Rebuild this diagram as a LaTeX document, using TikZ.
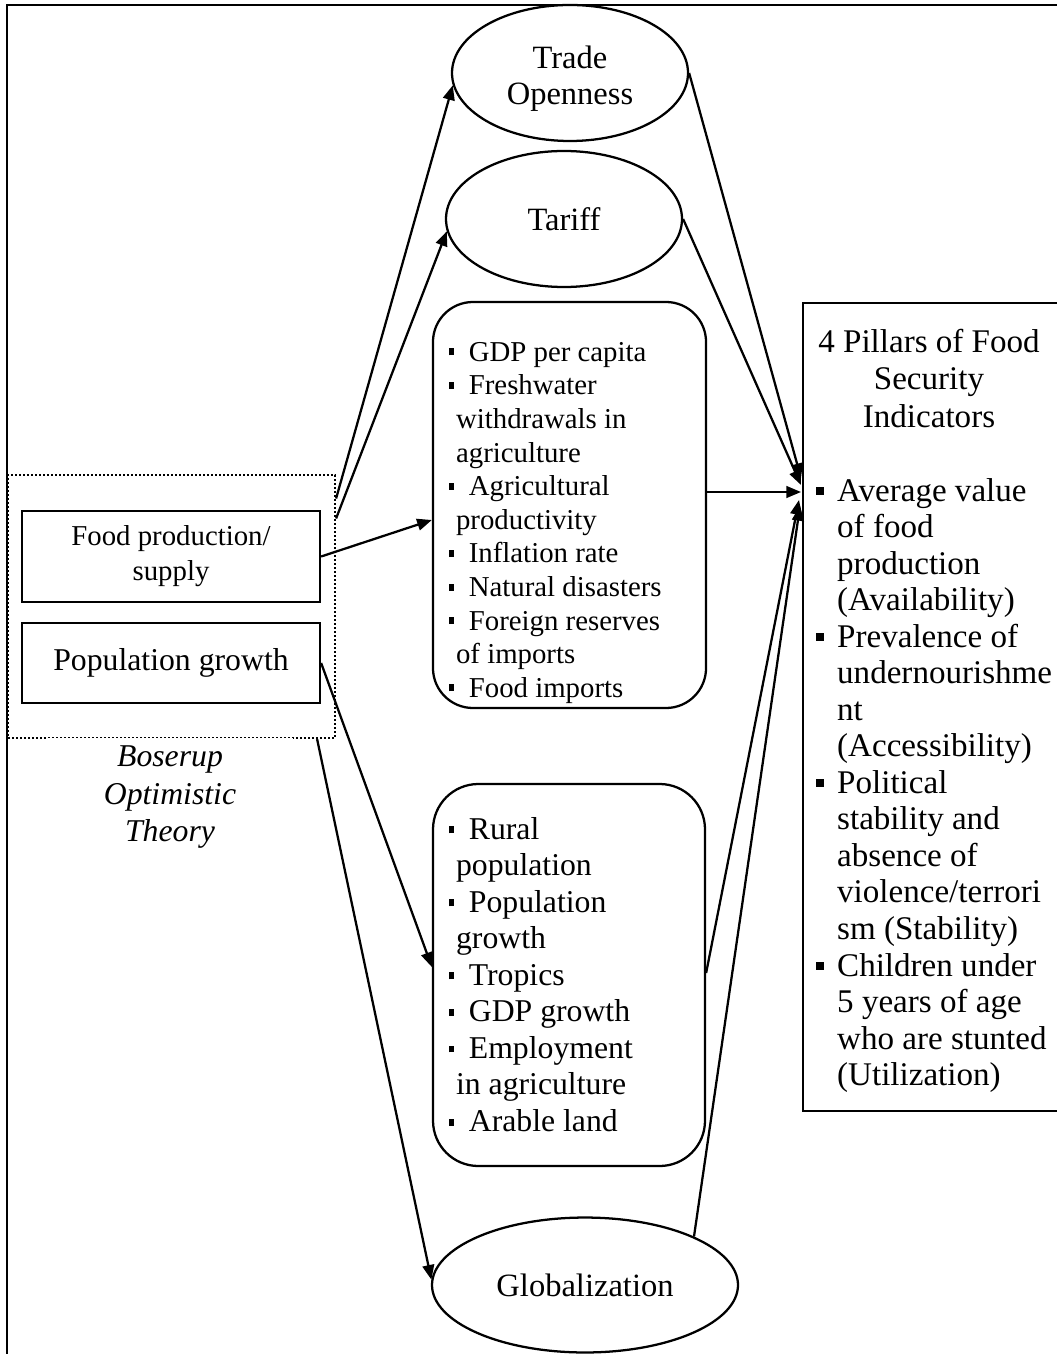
\documentclass[tikz,border=0pt]{standalone}
\usepackage{fontspec}
\setmainfont{Liberation Serif}
\usetikzlibrary{shapes.geometric,arrows.meta,calc}
\newcommand{\mbul}{\rule[2.2pt]{2pt}{2.6pt}\hspace{5.4pt}}
\newcommand{\mcont}{\hspace*{2.6pt}}
\newcommand{\rbul}{\rule[2.4pt]{3pt}{3pt}\hspace{4.9pt}}
\newcommand{\rcont}{\hspace*{7.9pt}}
\begin{document}
\begin{tikzpicture}[x=0.375pt,y=-0.375pt, line width=0.85pt,
  ell/.style={draw, ellipse, inner sep=0pt, align=center, font=\fontsize{12.2}{13.4}\selectfont},
  sq/.style={draw, rectangle, inner sep=0pt, align=center},
  txt/.style={anchor=north west, inner sep=0pt, align=left},
  arr/.style={-{Triangle[length=5.5pt,width=4.4pt]}}]
\useasboundingbox (0,0) rectangle (1057,1354);
\clip (0,0) rectangle (1057,1354);
% outer frame (partly outside the page)
\draw (7,1400) -- (7,5) -- (1100,5);

% ellipses
\node[ell, minimum width=88.5pt, minimum height=51pt] (trade) at (570,73) {\rule{0pt}{12.5pt}Trade\\Openness};
\node[ell, minimum width=88.5pt, minimum height=51pt] (tariff) at (564,219) {Tariff};
\node[ell, minimum width=114.75pt, minimum height=50.6pt] (glob) at (585,1285) {Globalization};

% middle rounded boxes
\node[draw, rounded corners=15pt, inner sep=0pt, minimum width=102.4pt, minimum height=152.25pt] (mid1) at (569.5,505) {};
\node[draw, rounded corners=17pt, inner sep=0pt, minimum width=102pt, minimum height=143.25pt] (mid2) at (569,975) {};

\node[txt, font=\fontsize{10.8}{12.6}\selectfont] (mid1t) at (448,341) {%
\mbul GDP per capita\\
\mbul Freshwater\\
\mcont withdrawals in\\
\mcont agriculture\\
\mbul Agricultural\\
\mcont productivity\\
\mbul Inflation rate\\
\mbul Natural disasters\\
\mbul Foreign reserves\\
\mcont of imports\\
\mbul Food imports};

\node[txt, font=\fontsize{11.9}{13.7}\selectfont] (mid2t) at (448,816) {%
\mbul Rural\\
\mcont population\\
\mbul Population\\
\mcont growth\\
\mbul Tropics\\
\mbul GDP growth\\
\mbul Employment\\
\mcont in agriculture\\
\mbul Arable land};

% right box
\node[draw, rectangle, inner sep=0pt, anchor=north west, minimum width=100pt, minimum height=303pt] (rbox) at (802,302) {};
\node[anchor=north, inner sep=0pt, align=center, font=\fontsize{12.4}{14}\selectfont] (rtitle) at (929,328) {4 Pillars of Food\\Security\\Indicators};
\node[txt, font=\fontsize{12.4}{13.7}\selectfont] (rlist) at (815,477) {%
\rbul Average value\\
\rcont of food\\
\rcont production\\
\rcont (Availability)\\
\rbul Prevalence of\\
\rcont undernourishme\\
\rcont nt\\
\rcont (Accessibility)\\
\rbul Political\\
\rcont stability and\\
\rcont absence of\\
\rcont violence/terrori\\
\rcont sm (Stability)\\
\rbul Children under\\
\rcont 5 years of age\\
\rcont who are stunted\\
\rcont (Utilization)};

% left group
\node[draw, dash pattern=on 0.75pt off 0.75pt, inner sep=0pt, minimum width=122.6pt, minimum height=98.6pt] (bos) at (171.5,606.5) {};
\node[sq, minimum width=111.75pt, minimum height=34.1pt, font=\fontsize{10.8}{13.1}\selectfont] (food) at (171,556.5) {Food production/\\supply};
\node[sq, minimum width=111.75pt, minimum height=30pt, font=\fontsize{11.9}{13.7}\selectfont] (pop) at (171,663) {Population growth};
\node[fill=white, inner xsep=0pt, inner ysep=3pt, minimum width=92pt, anchor=north, align=center, font=\itshape\fontsize{11.9}{14}\selectfont] (bostxt) at (170,737) {Boserup\\Optimistic\\Theory};

% connector end points
\coordinate (b1) at ($(bos.east)+(0,-108)$);
\coordinate (b2) at ($(bos.east)+(0,-88)$);
\coordinate (b3) at ($(bos.south east)+(-19,0)$);
\coordinate (e1) at (801,478);
\coordinate (e2) at (801,485);
\coordinate (e3) at (801,492);
\coordinate (e4) at (799,500);
\coordinate (e5) at (800,506);

% left connectors
\draw[arr] (b1) -- (trade.186);
\draw[arr] (b2) -- (tariff.186);
\draw[arr] (food.east) -- ($(mid1.west)+(0,15)$);
\draw[arr] (pop.east) -- ($(mid2.west)+(0,-8)$);
\draw[arr] (b3) -- (glob.178);

% right connectors
\draw[arr] (trade.east) -- (e1);
\draw[arr] (tariff.east) -- (e2);
\draw[arr] (mid1.east |- e3) -- (e3);
\draw[arr] ($(mid2.east)+(0,-2)$) -- (e4);
\draw[arr] (glob.north east) -- (e5);
\end{tikzpicture}
\end{document}
